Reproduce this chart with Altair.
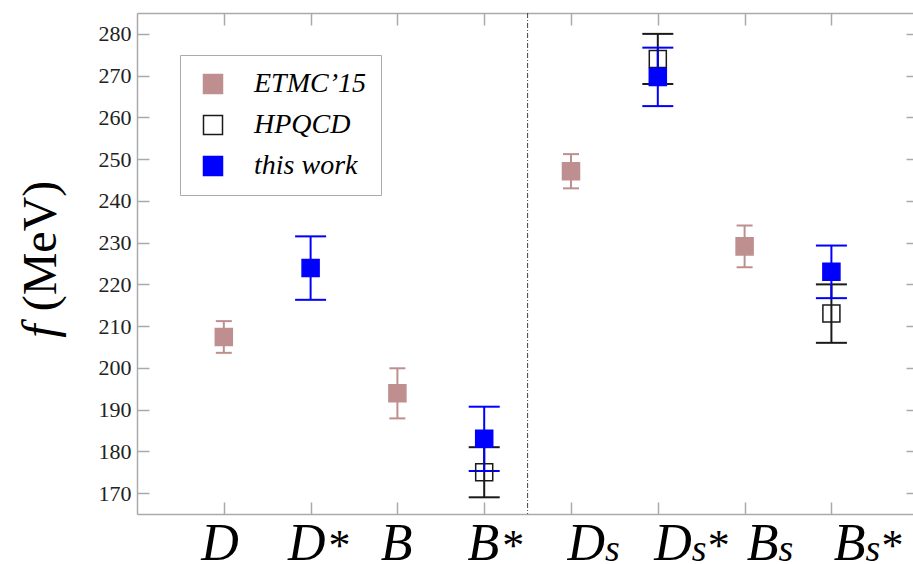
import altair as alt
import pandas as pd

# Meson categories along the x axis, with label pieces
mesons = ["D", "D*", "B", "B*", "Ds", "Ds*", "Bs", "Bs*"]
letters = ["D", "D", "B", "B", "D", "D", "B", "B"]
subs = ["", "", "", "", "s", "s", "s", "s"]
stars = ["", "*", "", "*", "", "*", "", "*"]

series_names = ["ETMC’15", "HPQCD", "this work"]

# Decay constants (MeV) and their uncertainties
etmc_mesons = ["D", "B", "Ds", "Bs"]
etmc_f = [207.4, 193.9, 247.1, 229.1]
etmc_err = [3.8, 6.0, 4.1, 5.0]

hpqcd_mesons = ["B*", "Ds*", "Bs*"]
hpqcd_f = [175.0, 274.0, 213.0]
hpqcd_err = [6.0, 6.0, 7.0]

work_mesons = ["D*", "B*", "Ds*", "Bs*"]
work_f = [223.9, 183.0, 269.7, 223.0]
work_err = [7.6, 7.7, 7.0, 6.3]

y_ticks = list(range(170, 290, 10))
separator = [4.5]

rows = []
for name, ms, fs, es in [
    (series_names[0], etmc_mesons, etmc_f, etmc_err),
    (series_names[1], hpqcd_mesons, hpqcd_f, hpqcd_err),
    (series_names[2], work_mesons, work_f, work_err),
]:
    for m, f, e in zip(ms, fs, es):
        rows.append({"series": name, "meson": m, "pos": mesons.index(m) + 1,
                     "f": f, "lo": f - e, "hi": f + e})
df = pd.DataFrame(rows)

labels = pd.DataFrame({"pos": list(range(1, len(mesons) + 1)), "letter": letters,
                       "sub": subs, "star": stars})

W, H = 776, 501
ETMC_C = "#bf8f8f"
HPQCD_C = "#1a1a1a"
WORK_C = "#0000ff"
series_colors = [ETMC_C, HPQCD_C, WORK_C]
cap_widths = [16, 31, 31]

xs = alt.Scale(domain=[0, 8.94], nice=False, zero=False)
ys = alt.Scale(domain=[165, 285], nice=False, zero=False)
SERIF = "Liberation Serif"
FRAME = "#aaaaaa"


def frame_axis(orient, values, labels_on=False, tick=-12, domain=True):
    kw = dict(orient=orient, values=values, title=None, grid=False,
              labels=labels_on, domain=domain, domainColor=FRAME, domainWidth=1.5,
              tickColor=FRAME, tickWidth=1.5, tickSize={"expr": str(tick)})
    if labels_on:
        kw.update(labelFont=SERIF, labelFontSize=22, labelColor="#222222",
                  labelPadding=18)
    return alt.Axis(**kw)


base = alt.Chart(df)

# invisible carrier of the top / right frame axes
frame = base.mark_point(opacity=0).encode(
    x=alt.X("pos:Q", scale=xs, axis=frame_axis("top", list(range(1, 9)))),
    y=alt.Y("f:Q", scale=ys, axis=frame_axis("right", y_ticks, tick=-7, domain=False)),
)

# error bars: one stem + two caps per series
error_layers = []
for name, col, cw in zip(series_names, series_colors, cap_widths):
    sub = base.transform_filter(alt.datum.series == name)
    error_layers.append(sub.mark_rule(strokeWidth=2, color=col).encode(
        x=alt.X("pos:Q", scale=xs, axis=None),
        y=alt.Y("lo:Q", scale=ys, axis=None),
        y2="hi:Q",
    ))
    error_layers.append(sub.transform_fold(["lo", "hi"], as_=["end", "yv"]).mark_tick(
        orient="horizontal", thickness=2, size=cw, opacity=1, color=col
    ).encode(
        x=alt.X("pos:Q", scale=xs, axis=None),
        y=alt.Y("yv:Q", scale=ys, axis=None),
    ))

legend = alt.Legend(title=None, orient="none", legendX=43, legendY=42,
                    strokeColor=FRAME, fillColor="white", padding=15,
                    symbolOffset=4, symbolType="square", symbolSize=361,
                    symbolStrokeWidth=1.5, labelFont=SERIF, labelFontStyle="italic",
                    labelFontSize=28, labelColor="black", rowPadding=13,
                    labelOffset=27, cornerRadius=0)

squares = base.mark_square(size=290, opacity=1, strokeWidth=1.5).encode(
    x=alt.X("pos:Q", scale=xs, axis=frame_axis("bottom", list(range(1, 9)))),
    y=alt.Y("f:Q", scale=ys, axis=frame_axis("left", y_ticks, labels_on=True)),
    fill=alt.Fill("series:N", scale=alt.Scale(domain=series_names,
                  range=[ETMC_C, "transparent", WORK_C]), legend=legend),
    stroke=alt.Stroke("series:N", scale=alt.Scale(domain=series_names,
                      range=series_colors), legend=legend),
)

sep = alt.Chart(pd.DataFrame({"x": separator})).mark_rule(
    color="#444444", strokeWidth=1, strokeDash=[5, 2, 1, 2]
).encode(x=alt.X("x:Q", scale=xs, axis=None), y=alt.value(0), y2=alt.value(H))

lab = alt.Chart(labels)
LABEL_Y = 547


def label_text(flt, field, dx, size, italic=True, align="left", dy=0):
    kw = dict(align=align, baseline="alphabetic", font=SERIF, fontSize=size,
              dx=dx, dy=dy, color="black")
    if italic:
        kw["fontStyle"] = "italic"
    return lab.transform_filter(flt).mark_text(**kw).encode(
        x=alt.X("pos:Q", scale=xs, axis=None), y=alt.value(LABEL_Y),
        text=f"{field}:N")


plain = alt.datum.sub == ""
subbed = alt.datum.sub != ""
has_star = alt.datum.star != ""

lab_layers = [
    label_text(plain, "letter", 15, 52, align="right"),
    label_text(subbed, "letter", 34, 52, align="right"),
    label_text(subbed, "sub", 34, 38, dy=1),
    label_text(plain & has_star, "star", 18, 44, italic=False),
    label_text(subbed & has_star, "star", 50, 44, italic=False),
]

title_mev = alt.Chart(pd.DataFrame({"t": ["(MeV)"]})).mark_text(
    angle=270, align="center", baseline="alphabetic", font=SERIF, fontSize=48,
    color="black").encode(x=alt.value(-81), y=alt.value(233), text="t:N")
title_f = alt.Chart(pd.DataFrame({"t": ["f"]})).mark_text(
    angle=270, align="center", baseline="alphabetic", font=SERIF, fontSize=48,
    fontStyle="italic", color="black").encode(x=alt.value(-81), y=alt.value(318),
                                              text="t:N")

chart = alt.layer(
    frame, sep, *error_layers, squares, *lab_layers, title_mev, title_f
).resolve_axis(x="independent", y="independent").properties(
    width=W, height=H,
    padding={"left": 137, "top": 13, "right": 0, "bottom": 50},
    autosize=alt.AutoSizeParams(type="none"),
).configure_view(stroke=None).configure(background="white")

chart.save("out.html", embed_options={"renderer": "svg", "actions": False})
